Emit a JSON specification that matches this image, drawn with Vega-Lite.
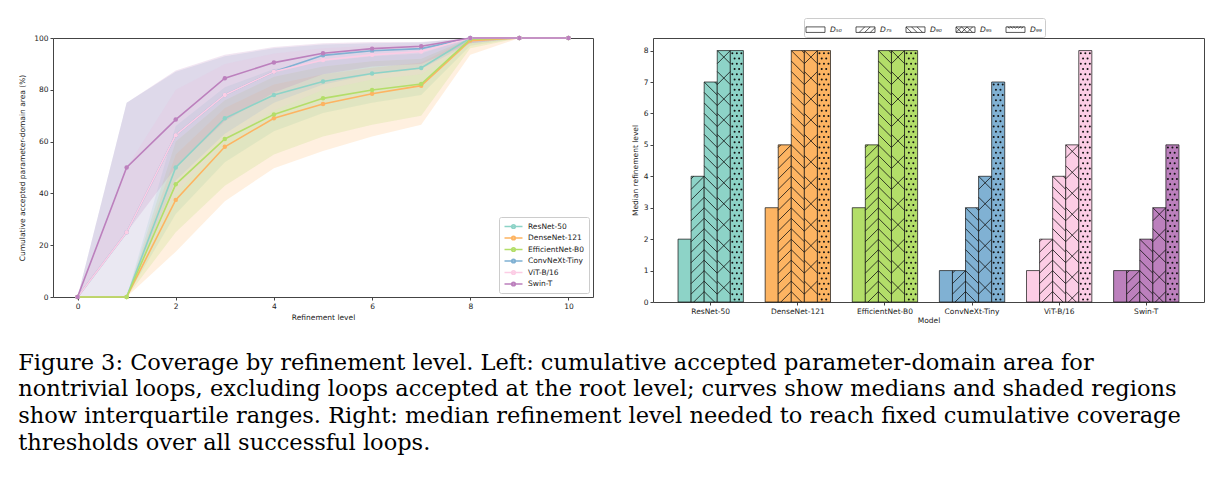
{
  "$schema": "https://vega.github.io/schema/vega-lite/v6.json",
  "background": "white",
  "padding": {"left": 18, "top": 17, "right": 10, "bottom": 5},
  "config": {
    "font": "DejaVu Sans",
    "view": {"stroke": "#444", "strokeWidth": 1},
    "axis": {"labelFontSize": 7.5, "titleFontSize": 7.5, "grid": false, "domain": false, "tickColor": "#444", "tickSize": 3, "labelColor": "#222", "titleColor": "#222", "titleFontWeight": "normal", "labelPadding": 2, "titlePadding": 4},
    "legend": {"labelFontSize": 7.5, "labelColor": "#222"}
  },
  "title": {
    "text": [
      "Figure 3: Coverage by refinement level.  Left: cumulative accepted parameter-domain area for",
      "nontrivial loops, excluding loops accepted at the root level; curves show medians and shaded regions",
      "show interquartile ranges. Right: median refinement level needed to reach fixed cumulative coverage",
      "thresholds over all successful loops."
    ],
    "orient": "bottom", "anchor": "start", "font": "DejaVu Serif", "fontSize": 22.5, "fontWeight": "normal", "color": "#000", "lineHeight": 26.7, "offset": 27
  },
  "datasets": {
    "curves": [
      {"model": "ResNet-50", "level": 0, "median": 0, "lo": 0, "hi": 0},
      {"model": "ResNet-50", "level": 1, "median": 0, "lo": 0, "hi": 0},
      {"model": "ResNet-50", "level": 2, "median": 50, "lo": 32, "hi": 66},
      {"model": "ResNet-50", "level": 3, "median": 69, "lo": 52, "hi": 81},
      {"model": "ResNet-50", "level": 4, "median": 78, "lo": 64, "hi": 88},
      {"model": "ResNet-50", "level": 5, "median": 83.2, "lo": 71, "hi": 91},
      {"model": "ResNet-50", "level": 6, "median": 86.3, "lo": 75, "hi": 93},
      {"model": "ResNet-50", "level": 7, "median": 88.4, "lo": 78, "hi": 94},
      {"model": "ResNet-50", "level": 8, "median": 100, "lo": 97, "hi": 100},
      {"model": "ResNet-50", "level": 9, "median": 100, "lo": 100, "hi": 100},
      {"model": "ResNet-50", "level": 10, "median": 100, "lo": 100, "hi": 100},
      {"model": "DenseNet-121", "level": 0, "median": 0, "lo": 0, "hi": 0},
      {"model": "DenseNet-121", "level": 1, "median": 0, "lo": 0, "hi": 0},
      {"model": "DenseNet-121", "level": 2, "median": 37.5, "lo": 17.5, "hi": 55},
      {"model": "DenseNet-121", "level": 3, "median": 58, "lo": 37, "hi": 73},
      {"model": "DenseNet-121", "level": 4, "median": 69, "lo": 49.7, "hi": 82},
      {"model": "DenseNet-121", "level": 5, "median": 74.5, "lo": 56.4, "hi": 86},
      {"model": "DenseNet-121", "level": 6, "median": 78.5, "lo": 62, "hi": 88.5},
      {"model": "DenseNet-121", "level": 7, "median": 81.6, "lo": 66.5, "hi": 90.5},
      {"model": "DenseNet-121", "level": 8, "median": 99, "lo": 93.5, "hi": 100},
      {"model": "DenseNet-121", "level": 9, "median": 100, "lo": 100, "hi": 100},
      {"model": "DenseNet-121", "level": 10, "median": 100, "lo": 100, "hi": 100},
      {"model": "EfficientNet-B0", "level": 0, "median": 0, "lo": 0, "hi": 0},
      {"model": "EfficientNet-B0", "level": 1, "median": 0, "lo": 0, "hi": 0},
      {"model": "EfficientNet-B0", "level": 2, "median": 43.5, "lo": 25, "hi": 60},
      {"model": "EfficientNet-B0", "level": 3, "median": 61, "lo": 43, "hi": 76},
      {"model": "EfficientNet-B0", "level": 4, "median": 70.5, "lo": 55, "hi": 85},
      {"model": "EfficientNet-B0", "level": 5, "median": 76.7, "lo": 62, "hi": 89},
      {"model": "EfficientNet-B0", "level": 6, "median": 79.9, "lo": 66.5, "hi": 91},
      {"model": "EfficientNet-B0", "level": 7, "median": 82.2, "lo": 70, "hi": 92},
      {"model": "EfficientNet-B0", "level": 8, "median": 99.5, "lo": 96, "hi": 100},
      {"model": "EfficientNet-B0", "level": 9, "median": 100, "lo": 100, "hi": 100},
      {"model": "EfficientNet-B0", "level": 10, "median": 100, "lo": 100, "hi": 100},
      {"model": "ConvNeXt-Tiny", "level": 0, "median": 0, "lo": 0, "hi": 0},
      {"model": "ConvNeXt-Tiny", "level": 1, "median": 25, "lo": 0, "hi": 75},
      {"model": "ConvNeXt-Tiny", "level": 2, "median": 62.5, "lo": 45, "hi": 87},
      {"model": "ConvNeXt-Tiny", "level": 3, "median": 78, "lo": 63, "hi": 93},
      {"model": "ConvNeXt-Tiny", "level": 4, "median": 87, "lo": 75, "hi": 96},
      {"model": "ConvNeXt-Tiny", "level": 5, "median": 93.3, "lo": 82, "hi": 97.5},
      {"model": "ConvNeXt-Tiny", "level": 6, "median": 95.1, "lo": 86, "hi": 98},
      {"model": "ConvNeXt-Tiny", "level": 7, "median": 95.9, "lo": 88, "hi": 98.3},
      {"model": "ConvNeXt-Tiny", "level": 8, "median": 100, "lo": 98, "hi": 100},
      {"model": "ConvNeXt-Tiny", "level": 9, "median": 100, "lo": 100, "hi": 100},
      {"model": "ConvNeXt-Tiny", "level": 10, "median": 100, "lo": 100, "hi": 100},
      {"model": "ViT-B/16", "level": 0, "median": 0, "lo": 0, "hi": 0},
      {"model": "ViT-B/16", "level": 1, "median": 25, "lo": 0, "hi": 50},
      {"model": "ViT-B/16", "level": 2, "median": 62.5, "lo": 40, "hi": 80},
      {"model": "ViT-B/16", "level": 3, "median": 78, "lo": 60, "hi": 90},
      {"model": "ViT-B/16", "level": 4, "median": 87, "lo": 72, "hi": 94},
      {"model": "ViT-B/16", "level": 5, "median": 91.5, "lo": 80, "hi": 96},
      {"model": "ViT-B/16", "level": 6, "median": 93.5, "lo": 84, "hi": 97},
      {"model": "ViT-B/16", "level": 7, "median": 94.8, "lo": 86, "hi": 97.5},
      {"model": "ViT-B/16", "level": 8, "median": 100, "lo": 98, "hi": 100},
      {"model": "ViT-B/16", "level": 9, "median": 100, "lo": 100, "hi": 100},
      {"model": "ViT-B/16", "level": 10, "median": 100, "lo": 100, "hi": 100},
      {"model": "Swin-T", "level": 0, "median": 0, "lo": 0, "hi": 0},
      {"model": "Swin-T", "level": 1, "median": 50, "lo": 25, "hi": 75},
      {"model": "Swin-T", "level": 2, "median": 68.5, "lo": 50, "hi": 87.5},
      {"model": "Swin-T", "level": 3, "median": 84.5, "lo": 68, "hi": 93.5},
      {"model": "Swin-T", "level": 4, "median": 90.5, "lo": 79, "hi": 96.5},
      {"model": "Swin-T", "level": 5, "median": 94.1, "lo": 86, "hi": 98},
      {"model": "Swin-T", "level": 6, "median": 95.9, "lo": 89, "hi": 98.5},
      {"model": "Swin-T", "level": 7, "median": 96.8, "lo": 90, "hi": 98.5},
      {"model": "Swin-T", "level": 8, "median": 100, "lo": 98, "hi": 100},
      {"model": "Swin-T", "level": 9, "median": 100, "lo": 100, "hi": 100},
      {"model": "Swin-T", "level": 10, "median": 100, "lo": 100, "hi": 100}
    ],
    "bars": [
      {"model": "ResNet-50", "threshold": "D₅₀", "value": 2},
      {"model": "ResNet-50", "threshold": "D₇₅", "value": 4},
      {"model": "ResNet-50", "threshold": "D₉₀", "value": 7},
      {"model": "ResNet-50", "threshold": "D₉₅", "value": 8},
      {"model": "ResNet-50", "threshold": "D₉₉", "value": 8},
      {"model": "DenseNet-121", "threshold": "D₅₀", "value": 3},
      {"model": "DenseNet-121", "threshold": "D₇₅", "value": 5},
      {"model": "DenseNet-121", "threshold": "D₉₀", "value": 8},
      {"model": "DenseNet-121", "threshold": "D₉₅", "value": 8},
      {"model": "DenseNet-121", "threshold": "D₉₉", "value": 8},
      {"model": "EfficientNet-B0", "threshold": "D₅₀", "value": 3},
      {"model": "EfficientNet-B0", "threshold": "D₇₅", "value": 5},
      {"model": "EfficientNet-B0", "threshold": "D₉₀", "value": 8},
      {"model": "EfficientNet-B0", "threshold": "D₉₅", "value": 8},
      {"model": "EfficientNet-B0", "threshold": "D₉₉", "value": 8},
      {"model": "ConvNeXt-Tiny", "threshold": "D₅₀", "value": 1},
      {"model": "ConvNeXt-Tiny", "threshold": "D₇₅", "value": 1},
      {"model": "ConvNeXt-Tiny", "threshold": "D₉₀", "value": 3},
      {"model": "ConvNeXt-Tiny", "threshold": "D₉₅", "value": 4},
      {"model": "ConvNeXt-Tiny", "threshold": "D₉₉", "value": 7},
      {"model": "ViT-B/16", "threshold": "D₅₀", "value": 1},
      {"model": "ViT-B/16", "threshold": "D₇₅", "value": 2},
      {"model": "ViT-B/16", "threshold": "D₉₀", "value": 4},
      {"model": "ViT-B/16", "threshold": "D₉₅", "value": 5},
      {"model": "ViT-B/16", "threshold": "D₉₉", "value": 8},
      {"model": "Swin-T", "threshold": "D₅₀", "value": 1},
      {"model": "Swin-T", "threshold": "D₇₅", "value": 1},
      {"model": "Swin-T", "threshold": "D₉₀", "value": 2},
      {"model": "Swin-T", "threshold": "D₉₅", "value": 3},
      {"model": "Swin-T", "threshold": "D₉₉", "value": 5}
    ]
  },
  "columns": 2,
  "align": "none",
  "spacing": 36,
  "resolve": {"scale": {"shape": "independent", "color": "independent", "fill": "independent"}, "legend": {"shape": "independent", "color": "independent", "fill": "independent"}},
  "concat": [
    {
      "width": 540,
      "height": 259,
      "data": {"name": "curves"},
      "encoding": {
        "x": {"field": "level", "type": "quantitative", "scale": {"domain": [-0.5, 10.5], "nice": false, "zero": false}, "axis": {"values": [0, 2, 4, 6, 8, 10], "title": "Refinement level"}}
      },
      "layer": [
        {
          "mark": {"type": "area", "fillOpacity": 0.2},
          "encoding": {
            "y": {"field": "lo", "type": "quantitative", "scale": {"domain": [0, 100], "nice": false}, "axis": {"values": [0, 20, 40, 60, 80, 100], "title": "Cumulative accepted parameter-domain area (%)", "titlePadding": 7}},
            "y2": {"field": "hi"},
            "fill": {"field": "model", "type": "nominal", "scale": {"domain": ["Swin-T", "ViT-B/16", "ConvNeXt-Tiny", "EfficientNet-B0", "DenseNet-121", "ResNet-50"], "range": ["#bc80bd", "#fccde5", "#80b1d3", "#b3de69", "#fdb462", "#8dd3c7"]}, "legend": null}
          }
        },
        {
          "mark": {"type": "line", "strokeWidth": 1.6},
          "encoding": {
            "y": {"field": "median", "type": "quantitative"},
            "color": {"field": "model", "type": "nominal", "scale": {"domain": ["ResNet-50", "DenseNet-121", "EfficientNet-B0", "ConvNeXt-Tiny", "ViT-B/16", "Swin-T"], "range": ["#8dd3c7", "#fdb462", "#b3de69", "#80b1d3", "#fccde5", "#bc80bd"]},
              "legend": {"title": null, "orient": "bottom-right", "offset": 4, "strokeColor": "#ccc", "fillColor": "white", "padding": 4, "cornerRadius": 2, "symbolType": "M-2,0H2M-0.4,0A0.4,0.4 0 1 1 0.4,0A0.4,0.4 0 1 1 -0.4,0", "symbolSize": 81, "symbolStrokeWidth": 1.6, "rowPadding": 0.5, "labelOffset": 9, "symbolOffset": 5}}
          }
        },
        {
          "mark": {"type": "point", "filled": true, "size": 20, "opacity": 1},
          "encoding": {
            "y": {"field": "median", "type": "quantitative"},
            "fill": {"field": "model", "type": "nominal", "legend": null}
          }
        }
      ]
    },
    {
      "width": 551,
      "height": 264,
      "data": {"name": "bars"},
      "resolve": {"scale": {"shape": "independent"}, "legend": {"shape": "independent"}},
      "encoding": {
        "x": {"field": "model", "type": "nominal", "sort": ["ResNet-50", "DenseNet-121", "EfficientNet-B0", "ConvNeXt-Tiny", "ViT-B/16", "Swin-T"], "scale": {"paddingInner": 0.25, "paddingOuter": 0.2875}, "axis": {"labelAngle": 0, "title": "Model", "titlePadding": 2}},
        "xOffset": {"field": "threshold", "type": "nominal", "sort": ["D₅₀", "D₇₅", "D₉₀", "D₉₅", "D₉₉"], "scale": {"paddingInner": 0, "paddingOuter": 0}},
        "y": {"field": "value", "type": "quantitative", "scale": {"domain": [0, 8.4], "nice": false}, "axis": {"values": [0, 1, 2, 3, 4, 5, 6, 7, 8], "title": "Median refinement level"}}
      },
      "layer": [
        {
          "mark": {"type": "bar", "stroke": "#111", "strokeWidth": 0.7},
          "encoding": {
            "fill": {"field": "model", "type": "nominal", "scale": {"domain": ["ResNet-50", "DenseNet-121", "EfficientNet-B0", "ConvNeXt-Tiny", "ViT-B/16", "Swin-T"], "range": ["#8dd3c7", "#fdb462", "#b3de69", "#80b1d3", "#fccde5", "#bc80bd"]}, "legend": null}
          }
        },
        {
          "transform": [{"filter": {"field": "threshold", "equal": "D₇₅"}}],
          "mark": {"type": "point", "filled": false, "size": 4, "opacity": 1, "stroke": "#111", "strokeWidth": 0.8, "clip": true},
          "encoding": {
            "shape": {"field": "value", "type": "ordinal", "legend": null, "scale": {"domain": [1, 2, 4, 5], "range": [
              "M-6.53,2.58L-3.95,0M-6.53,13.06l13.06,-13.06m-13.06,23.54l13.06,-13.06m-13.06,23.54l13.06,-13.06",
              "M-6.53,2.58L-3.95,0M-6.53,13.06l13.06,-13.06m-13.06,23.54l13.06,-13.06m-13.06,23.54l13.06,-13.06m-13.06,23.54l13.06,-13.06m-13.06,23.54l13.06,-13.06m-13.06,23.54l13.06,-13.06",
              "M-6.53,2.58L-3.95,0M-6.53,13.06l13.06,-13.06m-13.06,23.54l13.06,-13.06m-13.06,23.54l13.06,-13.06m-13.06,23.54l13.06,-13.06m-13.06,23.54l13.06,-13.06m-13.06,23.54l13.06,-13.06m-13.06,23.54l13.06,-13.06m-13.06,23.54l13.06,-13.06m-13.06,23.54l13.06,-13.06m-13.06,23.54l13.06,-13.06m-13.06,23.54l13.06,-13.06m-13.06,23.54l13.06,-13.06",
              "M-6.53,2.58L-3.95,0M-6.53,13.06l13.06,-13.06m-13.06,23.54l13.06,-13.06m-13.06,23.54l13.06,-13.06m-13.06,23.54l13.06,-13.06m-13.06,23.54l13.06,-13.06m-13.06,23.54l13.06,-13.06m-13.06,23.54l13.06,-13.06m-13.06,23.54l13.06,-13.06m-13.06,23.54l13.06,-13.06m-13.06,23.54l13.06,-13.06m-13.06,23.54l13.06,-13.06m-13.06,23.54l13.06,-13.06m-13.06,23.54l13.06,-13.06m-13.06,23.54l13.06,-13.06m-13.06,23.54l13.06,-13.06"
            ]}}
          }
        },
        {
          "transform": [{"filter": {"field": "threshold", "equal": "D₉₀"}}],
          "mark": {"type": "point", "filled": false, "size": 4, "opacity": 1, "stroke": "#111", "strokeWidth": 0.8, "clip": true},
          "encoding": {
            "shape": {"field": "value", "type": "ordinal", "legend": null, "scale": {"domain": [2, 3, 4, 7, 8], "range": [
              "M3.95,0L6.53,2.58M-6.53,0l13.06,13.06m-13.06,-2.58l13.06,13.06m-13.06,-2.58l13.06,13.06m-13.06,-2.58l13.06,13.06m-13.06,-2.58l13.06,13.06m-13.06,-2.58l13.06,13.06",
              "M3.95,0L6.53,2.58M-6.53,0l13.06,13.06m-13.06,-2.58l13.06,13.06m-13.06,-2.58l13.06,13.06m-13.06,-2.58l13.06,13.06m-13.06,-2.58l13.06,13.06m-13.06,-2.58l13.06,13.06m-13.06,-2.58l13.06,13.06m-13.06,-2.58l13.06,13.06m-13.06,-2.58l13.06,13.06",
              "M3.95,0L6.53,2.58M-6.53,0l13.06,13.06m-13.06,-2.58l13.06,13.06m-13.06,-2.58l13.06,13.06m-13.06,-2.58l13.06,13.06m-13.06,-2.58l13.06,13.06m-13.06,-2.58l13.06,13.06m-13.06,-2.58l13.06,13.06m-13.06,-2.58l13.06,13.06m-13.06,-2.58l13.06,13.06m-13.06,-2.58l13.06,13.06m-13.06,-2.58l13.06,13.06m-13.06,-2.58l13.06,13.06",
              "M3.95,0L6.53,2.58M-6.53,0l13.06,13.06m-13.06,-2.58l13.06,13.06m-13.06,-2.58l13.06,13.06m-13.06,-2.58l13.06,13.06m-13.06,-2.58l13.06,13.06m-13.06,-2.58l13.06,13.06m-13.06,-2.58l13.06,13.06m-13.06,-2.58l13.06,13.06m-13.06,-2.58l13.06,13.06m-13.06,-2.58l13.06,13.06m-13.06,-2.58l13.06,13.06m-13.06,-2.58l13.06,13.06m-13.06,-2.58l13.06,13.06m-13.06,-2.58l13.06,13.06m-13.06,-2.58l13.06,13.06m-13.06,-2.58l13.06,13.06m-13.06,-2.58l13.06,13.06m-13.06,-2.58l13.06,13.06m-13.06,-2.58l13.06,13.06m-13.06,-2.58l13.06,13.06m-13.06,-2.58l13.06,13.06",
              "M3.95,0L6.53,2.58M-6.53,0l13.06,13.06m-13.06,-2.58l13.06,13.06m-13.06,-2.58l13.06,13.06m-13.06,-2.58l13.06,13.06m-13.06,-2.58l13.06,13.06m-13.06,-2.58l13.06,13.06m-13.06,-2.58l13.06,13.06m-13.06,-2.58l13.06,13.06m-13.06,-2.58l13.06,13.06m-13.06,-2.58l13.06,13.06m-13.06,-2.58l13.06,13.06m-13.06,-2.58l13.06,13.06m-13.06,-2.58l13.06,13.06m-13.06,-2.58l13.06,13.06m-13.06,-2.58l13.06,13.06m-13.06,-2.58l13.06,13.06m-13.06,-2.58l13.06,13.06m-13.06,-2.58l13.06,13.06m-13.06,-2.58l13.06,13.06m-13.06,-2.58l13.06,13.06m-13.06,-2.58l13.06,13.06m-13.06,-2.58l13.06,13.06m-13.06,-2.58l13.06,13.06m-13.06,-2.58l13.06,13.06"
            ]}}
          }
        },
        {
          "transform": [{"filter": {"field": "threshold", "equal": "D₉₅"}}],
          "mark": {"type": "point", "filled": false, "size": 4, "opacity": 1, "stroke": "#111", "strokeWidth": 0.8, "clip": true},
          "encoding": {
            "shape": {"field": "value", "type": "ordinal", "legend": null, "scale": {"domain": [3, 4, 5, 8], "range": [
              "M-6.53,13.06l13.06,-13.06m-13.06,34.01l13.06,-13.06m-13.06,34.01l13.06,-13.06m-13.06,34.01l13.06,-13.06m-13.06,34.01l13.06,-13.06M-6.53,0l13.06,13.06m-13.06,7.89l13.06,13.06m-13.06,7.89l13.06,13.06m-13.06,7.89l13.06,13.06m-13.06,7.89l13.06,13.06",
              "M-6.53,13.06l13.06,-13.06m-13.06,34.01l13.06,-13.06m-13.06,34.01l13.06,-13.06m-13.06,34.01l13.06,-13.06m-13.06,34.01l13.06,-13.06m-13.06,34.01l13.06,-13.06M-6.53,0l13.06,13.06m-13.06,7.89l13.06,13.06m-13.06,7.89l13.06,13.06m-13.06,7.89l13.06,13.06m-13.06,7.89l13.06,13.06m-13.06,7.89l13.06,13.06",
              "M-6.53,13.06l13.06,-13.06m-13.06,34.01l13.06,-13.06m-13.06,34.01l13.06,-13.06m-13.06,34.01l13.06,-13.06m-13.06,34.01l13.06,-13.06m-13.06,34.01l13.06,-13.06m-13.06,34.01l13.06,-13.06m-13.06,34.01l13.06,-13.06M-6.53,0l13.06,13.06m-13.06,7.89l13.06,13.06m-13.06,7.89l13.06,13.06m-13.06,7.89l13.06,13.06m-13.06,7.89l13.06,13.06m-13.06,7.89l13.06,13.06m-13.06,7.89l13.06,13.06m-13.06,7.89l13.06,13.06",
              "M-6.53,13.06l13.06,-13.06m-13.06,34.01l13.06,-13.06m-13.06,34.01l13.06,-13.06m-13.06,34.01l13.06,-13.06m-13.06,34.01l13.06,-13.06m-13.06,34.01l13.06,-13.06m-13.06,34.01l13.06,-13.06m-13.06,34.01l13.06,-13.06m-13.06,34.01l13.06,-13.06m-13.06,34.01l13.06,-13.06m-13.06,34.01l13.06,-13.06m-13.06,34.01l13.06,-13.06M-6.53,0l13.06,13.06m-13.06,7.89l13.06,13.06m-13.06,7.89l13.06,13.06m-13.06,7.89l13.06,13.06m-13.06,7.89l13.06,13.06m-13.06,7.89l13.06,13.06m-13.06,7.89l13.06,13.06m-13.06,7.89l13.06,13.06m-13.06,7.89l13.06,13.06m-13.06,7.89l13.06,13.06m-13.06,7.89l13.06,13.06m-13.06,7.89l13.06,13.06"
            ]}}
          }
        },
        {
          "transform": [{"filter": {"field": "threshold", "equal": "D₉₉"}}],
          "mark": {"type": "point", "filled": false, "size": 4, "opacity": 1, "stroke": "#111", "strokeWidth": 2, "strokeCap": "round", "clip": true},
          "encoding": {
            "shape": {"field": "value", "type": "ordinal", "legend": null, "scale": {"domain": [5, 7, 8], "range": [
              "M-4.5,2.62h0.01m4.49,0h0.01m4.49,0h0.01m-6.76,5.238h0.01m4.49,0h0.01m-6.76,5.238h0.01m4.49,0h0.01m4.49,0h0.01m-6.76,5.238h0.01m4.49,0h0.01m-6.76,5.238h0.01m4.49,0h0.01m4.49,0h0.01m-6.76,5.238h0.01m4.49,0h0.01m-6.76,5.238h0.01m4.49,0h0.01m4.49,0h0.01m-6.76,5.238h0.01m4.49,0h0.01m-6.76,5.238h0.01m4.49,0h0.01m4.49,0h0.01m-6.76,5.238h0.01m4.49,0h0.01m-6.76,5.238h0.01m4.49,0h0.01m4.49,0h0.01m-6.76,5.238h0.01m4.49,0h0.01m-6.76,5.238h0.01m4.49,0h0.01m4.49,0h0.01m-6.76,5.238h0.01m4.49,0h0.01m-6.76,5.238h0.01m4.49,0h0.01m4.49,0h0.01m-6.76,5.238h0.01m4.49,0h0.01m-6.76,5.238h0.01m4.49,0h0.01m4.49,0h0.01m-6.76,5.238h0.01m4.49,0h0.01m-6.76,5.238h0.01m4.49,0h0.01m4.49,0h0.01m-6.76,5.238h0.01m4.49,0h0.01m-6.76,5.238h0.01m4.49,0h0.01m4.49,0h0.01m-6.76,5.238h0.01m4.49,0h0.01m-6.76,5.238h0.01m4.49,0h0.01m4.49,0h0.01m-6.76,5.238h0.01m4.49,0h0.01m-6.76,5.238h0.01m4.49,0h0.01m4.49,0h0.01m-6.76,5.238h0.01m4.49,0h0.01m-6.76,5.238h0.01m4.49,0h0.01m4.49,0h0.01m-6.76,5.238h0.01m4.49,0h0.01m-6.76,5.238h0.01m4.49,0h0.01m4.49,0h0.01m-6.76,5.238h0.01m4.49,0h0.01m-6.76,5.238h0.01m4.49,0h0.01m4.49,0h0.01m-6.76,5.238h0.01m4.49,0h0.01m-6.76,5.238h0.01m4.49,0h0.01m4.49,0h0.01m-6.76,5.238h0.01m4.49,0h0.01m-6.76,5.238h0.01m4.49,0h0.01m4.49,0h0.01m-6.76,5.238h0.01m4.49,0h0.01m-6.76,5.238h0.01m4.49,0h0.01m4.49,0h0.01m-6.76,5.238h0.01m4.49,0h0.01m-6.76,5.238h0.01m4.49,0h0.01m4.49,0h0.01m-6.76,5.238h0.01m4.49,0h0.01m-6.76,5.238h0.01m4.49,0h0.01m4.49,0h0.01m-6.76,5.238h0.01m4.49,0h0.01",
              "M-4.5,2.62h0.01m4.49,0h0.01m4.49,0h0.01m-6.76,5.238h0.01m4.49,0h0.01m-6.76,5.238h0.01m4.49,0h0.01m4.49,0h0.01m-6.76,5.238h0.01m4.49,0h0.01m-6.76,5.238h0.01m4.49,0h0.01m4.49,0h0.01m-6.76,5.238h0.01m4.49,0h0.01m-6.76,5.238h0.01m4.49,0h0.01m4.49,0h0.01m-6.76,5.238h0.01m4.49,0h0.01m-6.76,5.238h0.01m4.49,0h0.01m4.49,0h0.01m-6.76,5.238h0.01m4.49,0h0.01m-6.76,5.238h0.01m4.49,0h0.01m4.49,0h0.01m-6.76,5.238h0.01m4.49,0h0.01m-6.76,5.238h0.01m4.49,0h0.01m4.49,0h0.01m-6.76,5.238h0.01m4.49,0h0.01m-6.76,5.238h0.01m4.49,0h0.01m4.49,0h0.01m-6.76,5.238h0.01m4.49,0h0.01m-6.76,5.238h0.01m4.49,0h0.01m4.49,0h0.01m-6.76,5.238h0.01m4.49,0h0.01m-6.76,5.238h0.01m4.49,0h0.01m4.49,0h0.01m-6.76,5.238h0.01m4.49,0h0.01m-6.76,5.238h0.01m4.49,0h0.01m4.49,0h0.01m-6.76,5.238h0.01m4.49,0h0.01m-6.76,5.238h0.01m4.49,0h0.01m4.49,0h0.01m-6.76,5.238h0.01m4.49,0h0.01m-6.76,5.238h0.01m4.49,0h0.01m4.49,0h0.01m-6.76,5.238h0.01m4.49,0h0.01m-6.76,5.238h0.01m4.49,0h0.01m4.49,0h0.01m-6.76,5.238h0.01m4.49,0h0.01m-6.76,5.238h0.01m4.49,0h0.01m4.49,0h0.01m-6.76,5.238h0.01m4.49,0h0.01m-6.76,5.238h0.01m4.49,0h0.01m4.49,0h0.01m-6.76,5.238h0.01m4.49,0h0.01m-6.76,5.238h0.01m4.49,0h0.01m4.49,0h0.01m-6.76,5.238h0.01m4.49,0h0.01m-6.76,5.238h0.01m4.49,0h0.01m4.49,0h0.01m-6.76,5.238h0.01m4.49,0h0.01m-6.76,5.238h0.01m4.49,0h0.01m4.49,0h0.01m-6.76,5.238h0.01m4.49,0h0.01m-6.76,5.238h0.01m4.49,0h0.01m4.49,0h0.01m-6.76,5.238h0.01m4.49,0h0.01m-6.76,5.238h0.01m4.49,0h0.01m4.49,0h0.01m-6.76,5.238h0.01m4.49,0h0.01m-6.76,5.238h0.01m4.49,0h0.01m4.49,0h0.01m-6.76,5.238h0.01m4.49,0h0.01m-6.76,5.238h0.01m4.49,0h0.01m4.49,0h0.01m-6.76,5.238h0.01m4.49,0h0.01m-6.76,5.238h0.01m4.49,0h0.01m4.49,0h0.01m-6.76,5.238h0.01m4.49,0h0.01m-6.76,5.238h0.01m4.49,0h0.01m4.49,0h0.01m-6.76,5.238h0.01m4.49,0h0.01m-6.76,5.238h0.01m4.49,0h0.01m4.49,0h0.01m-6.76,5.238h0.01m4.49,0h0.01m-6.76,5.238h0.01m4.49,0h0.01m4.49,0h0.01m-6.76,5.238h0.01m4.49,0h0.01",
              "M-4.5,2.62h0.01m4.49,0h0.01m4.49,0h0.01m-6.76,5.238h0.01m4.49,0h0.01m-6.76,5.238h0.01m4.49,0h0.01m4.49,0h0.01m-6.76,5.238h0.01m4.49,0h0.01m-6.76,5.238h0.01m4.49,0h0.01m4.49,0h0.01m-6.76,5.238h0.01m4.49,0h0.01m-6.76,5.238h0.01m4.49,0h0.01m4.49,0h0.01m-6.76,5.238h0.01m4.49,0h0.01m-6.76,5.238h0.01m4.49,0h0.01m4.49,0h0.01m-6.76,5.238h0.01m4.49,0h0.01m-6.76,5.238h0.01m4.49,0h0.01m4.49,0h0.01m-6.76,5.238h0.01m4.49,0h0.01m-6.76,5.238h0.01m4.49,0h0.01m4.49,0h0.01m-6.76,5.238h0.01m4.49,0h0.01m-6.76,5.238h0.01m4.49,0h0.01m4.49,0h0.01m-6.76,5.238h0.01m4.49,0h0.01m-6.76,5.238h0.01m4.49,0h0.01m4.49,0h0.01m-6.76,5.238h0.01m4.49,0h0.01m-6.76,5.238h0.01m4.49,0h0.01m4.49,0h0.01m-6.76,5.238h0.01m4.49,0h0.01m-6.76,5.238h0.01m4.49,0h0.01m4.49,0h0.01m-6.76,5.238h0.01m4.49,0h0.01m-6.76,5.238h0.01m4.49,0h0.01m4.49,0h0.01m-6.76,5.238h0.01m4.49,0h0.01m-6.76,5.238h0.01m4.49,0h0.01m4.49,0h0.01m-6.76,5.238h0.01m4.49,0h0.01m-6.76,5.238h0.01m4.49,0h0.01m4.49,0h0.01m-6.76,5.238h0.01m4.49,0h0.01m-6.76,5.238h0.01m4.49,0h0.01m4.49,0h0.01m-6.76,5.238h0.01m4.49,0h0.01m-6.76,5.238h0.01m4.49,0h0.01m4.49,0h0.01m-6.76,5.238h0.01m4.49,0h0.01m-6.76,5.238h0.01m4.49,0h0.01m4.49,0h0.01m-6.76,5.238h0.01m4.49,0h0.01m-6.76,5.238h0.01m4.49,0h0.01m4.49,0h0.01m-6.76,5.238h0.01m4.49,0h0.01m-6.76,5.238h0.01m4.49,0h0.01m4.49,0h0.01m-6.76,5.238h0.01m4.49,0h0.01m-6.76,5.238h0.01m4.49,0h0.01m4.49,0h0.01m-6.76,5.238h0.01m4.49,0h0.01m-6.76,5.238h0.01m4.49,0h0.01m4.49,0h0.01m-6.76,5.238h0.01m4.49,0h0.01m-6.76,5.238h0.01m4.49,0h0.01m4.49,0h0.01m-6.76,5.238h0.01m4.49,0h0.01m-6.76,5.238h0.01m4.49,0h0.01m4.49,0h0.01m-6.76,5.238h0.01m4.49,0h0.01m-6.76,5.238h0.01m4.49,0h0.01m4.49,0h0.01m-6.76,5.238h0.01m4.49,0h0.01m-6.76,5.238h0.01m4.49,0h0.01m4.49,0h0.01m-6.76,5.238h0.01m4.49,0h0.01m-6.76,5.238h0.01m4.49,0h0.01m4.49,0h0.01m-6.76,5.238h0.01m4.49,0h0.01m-6.76,5.238h0.01m4.49,0h0.01m4.49,0h0.01m-6.76,5.238h0.01m4.49,0h0.01m-6.76,5.238h0.01m4.49,0h0.01m4.49,0h0.01m-6.76,5.238h0.01m4.49,0h0.01m-6.76,5.238h0.01m4.49,0h0.01m4.49,0h0.01m-6.76,5.238h0.01m4.49,0h0.01m-6.76,5.238h0.01m4.49,0h0.01m4.49,0h0.01m-6.76,5.238h0.01m4.49,0h0.01m-6.76,5.238h0.01m4.49,0h0.01m4.49,0h0.01m-6.76,5.238h0.01m4.49,0h0.01"
            ]}}
          }
        },
        {
          "mark": {"type": "point", "opacity": 0, "size": 4},
          "encoding": {
            "shape": {"field": "threshold", "type": "nominal", "scale": {"domain": ["D₅₀", "D₇₅", "D₉₀", "D₉₅", "D₉₉"], "range": [
              "M-1.2,-0.35H1.2V0.35H-1.2Z",
              "M-1.2,-0.35H1.2V0.35H-1.2ZM-0.8,0.35L-0.1,-0.35M-0.1,0.35L0.6,-0.35M0.6,0.35L1.2,-0.25",
              "M-1.2,-0.35H1.2V0.35H-1.2ZM-1.2,-0.35L-0.5,0.35M-0.5,-0.35L0.2,0.35M0.2,-0.35L0.9,0.35",
              "M-1.2,-0.35H1.2V0.35H-1.2ZM-1.2,0.35L-0.5,-0.35L0.2,0.35L0.9,-0.35M-1.2,-0.35L-0.5,0.35L0.2,-0.35L0.9,0.35",
              "M-1.2,-0.35H1.2V0.35H-1.2ZM-1,-0.35L-0.8,-0.2L-0.6,-0.35L-0.4,-0.2L-0.2,-0.35L0,-0.2L0.2,-0.35L0.4,-0.2L0.6,-0.35L0.8,-0.2L1,-0.35"
            ]},
              "legend": {"title": null, "orient": "none", "legendX": 151, "legendY": -20, "direction": "horizontal", "symbolSize": 250, "symbolFillColor": "white", "symbolStrokeColor": "#111", "symbolStrokeWidth": 0.7, "symbolOpacity": 1, "strokeColor": "#ccc", "fillColor": "white", "padding": 3, "cornerRadius": 2, "labelFontStyle": "italic", "columnPadding": 12, "labelOffset": 6}}
          }
        }
      ]
    }
  ]
}
